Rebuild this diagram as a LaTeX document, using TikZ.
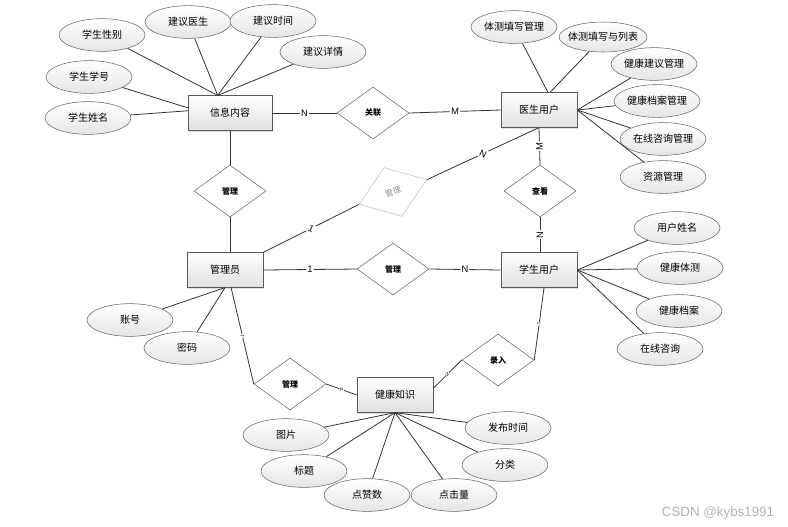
\documentclass[tikz,border=0pt]{standalone}
\usepackage{fontspec}
\setmainfont{Liberation Sans}
\newfontfamily\cjk{Noto Sans CJK SC}
\usetikzlibrary{shapes.geometric,shadows}

\tikzset{
	entity/.style={draw=black!65, rectangle, top color=white, bottom color=black!12, minimum width=57pt, minimum height=26pt, font=\cjk\fontsize{7.5}{9}\selectfont, drop shadow={shadow xshift=1pt, shadow yshift=-1pt, fill=black!25}},
	attr/.style={draw=black!60, ellipse, top color=white, bottom color=black!10, minimum width=64.5pt, minimum height=24.5pt, inner sep=0pt, font=\cjk\fontsize{7.5}{9}\selectfont},
	rel/.style={draw=black!60, diamond, fill=white, minimum width=54pt, minimum height=39pt, inner sep=0pt, font=\cjk\bfseries\fontsize{6}{7}\selectfont},
	faded/.style={rel, draw=black!25, text=black!45, rotate=20, font=\cjk\fontsize{6}{7}\selectfont},
	link/.style={draw=black!80, line width=0.6pt},
	card/.style={midway, sloped, fill=white, inner sep=0.8pt, font=\fontsize{7}{8}\selectfont},
	tick/.style={card, inner sep=0.3pt, font=\fontsize{3.5}{4}\selectfont}
}

\begin{document}
\begin{tikzpicture}[x=0.75pt,y=0.75pt,yscale=-1,xscale=1]
	\useasboundingbox (0,0) rectangle (788,526);
	
	%Shape: Entities
	\node[entity, minimum width=63pt] (info) at (230,113) {信息内容};
	\node[entity] (doc) at (539,110) {医生用户};
	\node[entity] (adm) at (225,270) {管理员};
	\node[entity] (stu) at (539,270) {学生用户};
	\node[entity] (know) at (395,395) {健康知识};
	
	%Shape: Relations
	\node[rel] (rel_link) at (373,113) {关联};
	\node[rel] (rel_info) at (230,191) {管理};
	\node[faded] (rel_doc) at (393,192) {管理};
	\node[rel] (rel_view) at (540,191) {查看};
	\node[rel] (rel_stu) at (393,269) {管理};
	\node[rel] (rel_know) at (290,384) {管理};
	\node[rel] (rel_input) at (498,360) {录入};
	
	%Shape: Attributes of info
	\node[attr] (s_sex) at (102,35) {学生性别};
	\node[attr] (s_doc) at (188,22) {建议医生};
	\node[attr] (s_time) at (273,21) {建议时间};
	\node[attr] (s_detail) at (323,52) {建议详情};
	\node[attr] (s_no) at (89,77) {学生学号};
	\node[attr] (s_name) at (88,118) {学生姓名};
	
	%Shape: Attributes of doctor
	\node[attr, minimum width=64.5pt] (d_fill) at (514,27) {体测填写管理};
	\node[attr, minimum width=66pt, minimum height=22.5pt, inner xsep=-4pt] (d_list) at (603,37) {体测填写与列表};
	\node[attr] (d_advice) at (654,64) {健康建议管理};
	\node[attr] (d_record) at (657,101) {健康档案管理};
	\node[attr] (d_consult) at (663,139) {在线咨询管理};
	\node[attr] (d_res) at (663,177) {资源管理};
	
	%Shape: Attributes of student
	\node[attr] (u_name) at (677,228) {用户姓名};
	\node[attr] (u_test) at (680,268) {健康体测};
	\node[attr] (u_record) at (679,311) {健康档案};
	\node[attr] (u_consult) at (660,349) {在线咨询};
	
	%Shape: Attributes of admin
	\node[attr] (a_acc) at (130,320) {账号};
	\node[attr] (a_pwd) at (187,348) {密码};
	
	%Shape: Attributes of knowledge
	\node[attr] (k_pic) at (286,435) {图片};
	\node[attr] (k_title) at (304,471) {标题};
	\node[attr] (k_like) at (367,495) {点赞数};
	\node[attr] (k_click) at (454,495) {点击量};
	\node[attr] (k_type) at (505,465) {分类};
	\node[attr] (k_time) at (508,428) {发布时间};
	
	%Straight Lines: attributes
	\draw[link] (s_sex) -- (info.125);
	\draw[link] (s_doc) -- (info.125);
	\draw[link] (s_time) -- (info.125);
	\draw[link] (s_detail) -- (info.125);
	\draw[link] (s_no) -- (info.173);
	\draw[link] (s_name) -- (info.177);
	
	\draw[link] (d_fill) -- (doc.63);
	\draw[link] (d_list) -- (doc.58);
	\draw[link] (d_advice) -- (doc.east);
	\draw[link] (d_record) -- (doc.east);
	\draw[link] (d_consult) -- (doc.east);
	\draw[link] (d_res) -- (doc.east);
	
	\draw[link] (u_name) -- (stu.east);
	\draw[link] (u_test) -- (stu.east);
	\draw[link] (u_record) -- (stu.east);
	\draw[link] (u_consult) -- (stu.east);
	
	\draw[link] (a_acc) -- (adm.south);
	\draw[link] (a_pwd) -- (adm.south);
	
	\draw[link] (k_pic) -- (know.south);
	\draw[link] (k_title) -- (know.south);
	\draw[link] (k_like) -- (know.south);
	\draw[link] (k_click) -- (know.south);
	\draw[link] (k_type) -- (know.south);
	\draw[link] (k_time) -- (know.south);
	
	%Straight Lines: relations
	\draw[link] (info.east) -- node[card] {N} (rel_link.west);
	\draw[link] (rel_link.east) -- node[card] {M} (doc.west);
	\draw[link] (info.south) -- (rel_info.north);
	\draw[link] (rel_info.south) -- (adm.north -| rel_info.south);
	\draw[link] (adm.north east) -- node[card] {1} (rel_doc.west);
	\draw[link] (rel_doc.east) -- node[card] {N} (doc.south);
	\draw[link] (doc.south) -- node[card] {M} (rel_view.north);
	\draw[link] (rel_view.south) -- node[card] {N} (stu.north -| rel_view.south);
	\draw[link] (adm.east) -- node[card] {1} (rel_stu.west);
	\draw[link] (rel_stu.east) -- node[card] {N} (stu.west);
	\draw[link] (adm.-71) -- node[tick] {1} (rel_know.west);
	\draw[link] (rel_know.east) -- node[tick] {N} (know.west);
	\draw[link] (know.10) -- node[tick] {N} (rel_input.west);
	\draw[link] (rel_input.east) -- node[tick] {1} (stu.-74);
	
	% Text Node
	\node[font=\fontsize{10}{12}\selectfont, text=black!30] (mark) at (718,513) {CSDN @kybs1991};
	
\end{tikzpicture}
\end{document}
